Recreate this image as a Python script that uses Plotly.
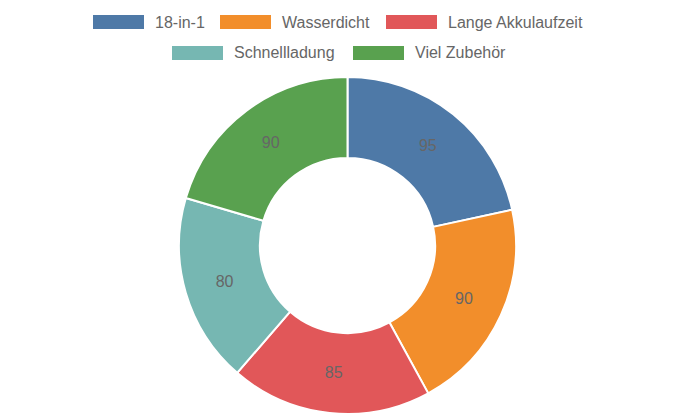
import plotly.graph_objects as go

categories = ["18-in-1", "Wasserdicht", "Lange Akkulaufzeit", "Schnellladung", "Viel Zubehör"]
values = [95, 90, 85, 80, 90]
colors = ["#4e79a7", "#f28e2b", "#e15759", "#76b7b2", "#59a14f"]

W, H = 695, 417
FONT = "Liberation Sans, Arial, sans-serif"
TXT = "#666666"

fig = go.Figure()
fig.add_trace(go.Pie(
    labels=categories, values=values, hole=0.52, sort=False, direction="clockwise",
    rotation=0,
    marker=dict(colors=colors, line=dict(color="white", width=2)),
    textinfo="value", textposition="inside", insidetextorientation="horizontal",
    insidetextfont=dict(family=FONT, size=16, color=TXT),
    domain=dict(x=[0, 1], y=[3 / H, 340 / H]),
    showlegend=False, hoverinfo="label+value+percent",
))

# custom legend layout (pixel positions of swatches, two centred rows)
legend_swatch_x = [93, 220, 386, 172, 353]
legend_row_y = [22, 22, 22, 53, 53]
sw_w, sw_h, gap_txt = 51, 14, 10
shapes, annotations = [], []
for i, name in enumerate(categories):
    x = legend_swatch_x[i]
    cy = legend_row_y[i]
    shapes.append(dict(type="rect", xref="paper", yref="paper",
                       x0=x / W, x1=(x + sw_w) / W,
                       y0=1 - (cy + sw_h / 2) / H, y1=1 - (cy - sw_h / 2) / H,
                       fillcolor=colors[i], line=dict(width=0)))
    tx = x + sw_w + gap_txt
    annotations.append(dict(xref="paper", yref="paper", x=tx / W, y=1 - cy / H,
                            xanchor="left", yanchor="middle", showarrow=False,
                            text=name, borderpad=0,
                            font=dict(family=FONT, size=16, color=TXT)))

fig.update_layout(
    width=W, height=H, margin=dict(l=0, r=0, t=0, b=0),
    paper_bgcolor="white", plot_bgcolor="white",
    shapes=shapes, annotations=annotations,
    uniformtext=dict(minsize=16, mode="show"),
)
fig.write_html("out.html")
